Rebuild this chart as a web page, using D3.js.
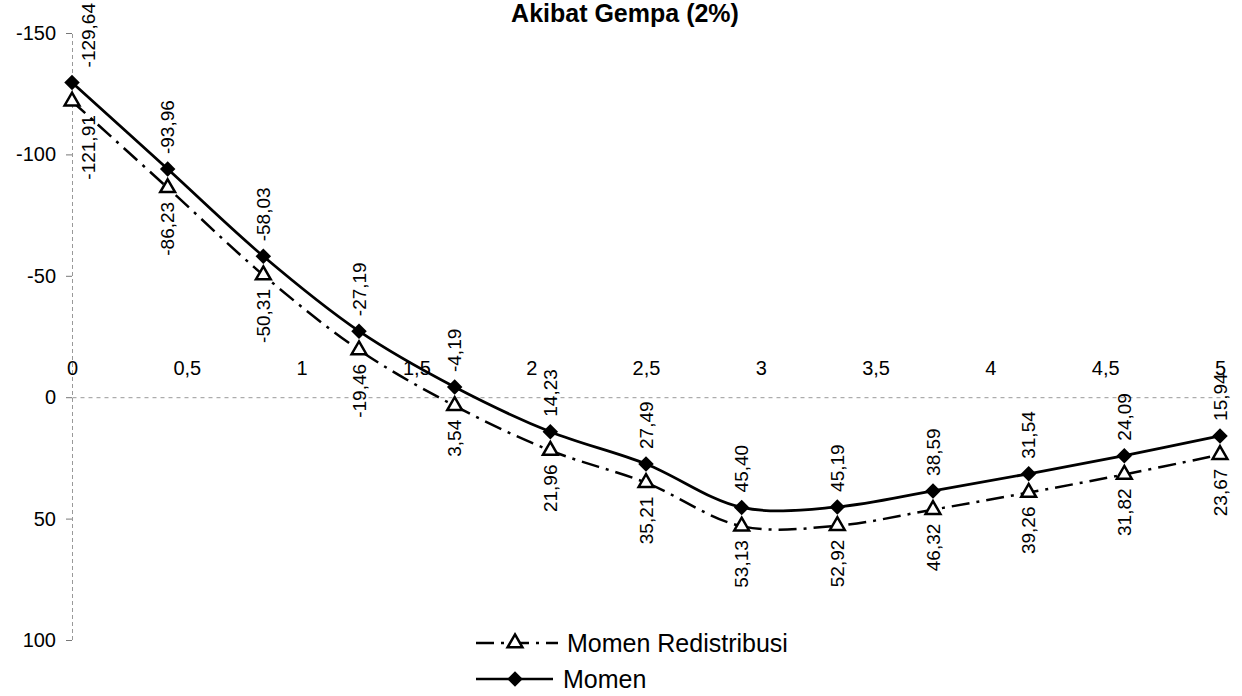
<!DOCTYPE html>
<html>
<head>
<meta charset="utf-8">
<script src="https://cdn.jsdelivr.net/npm/d3@7"></script>
<style>
  html, body { margin: 0; padding: 0; background: #fff; }
  svg { display: block; font-family: "Liberation Sans", Arial, sans-serif; }
</style>
</head>
<body>
<svg id="chart" width="1242" height="696"></svg>
<script>
// ---- data ----
const title = "Akibat Gempa (2%)";
const positions = [0, 5/12, 10/12, 15/12, 20/12, 25/12, 30/12, 35/12, 40/12, 45/12, 50/12, 55/12, 60/12];
const momen = [-129.64, -93.96, -58.03, -27.19, -4.19, 14.23, 27.49, 45.40, 45.19, 38.59, 31.54, 24.09, 15.94];
const momenRedistribusi = [-121.91, -86.23, -50.31, -19.46, 3.54, 21.96, 35.21, 53.13, 52.92, 46.32, 39.26, 31.82, 23.67];
const xTicks = [0, 0.5, 1, 1.5, 2, 2.5, 3, 3.5, 4, 4.5, 5];
const yTicks = [-150, -100, -50, 0, 50, 100];
const seriesNames = ["Momen Redistribusi", "Momen"];

// ---- layout ----
const svg = d3.select("#chart");
const x = d3.scaleLinear().domain([0, 5]).range([72, 1220]);
const y = d3.scaleLinear().domain([-150, 100]).range([33, 640]);
const fmt = v => v.toFixed(2).replace(".", ",");
const fmtTick = v => String(v).replace(".", ",");

// title
svg.append("text")
  .attr("x", 625).attr("y", 22)
  .attr("text-anchor", "middle")
  .style("font-weight", "bold")
  .style("font-size", "25px")
  .text(title);

// y axis
const yAxis = svg.append("g")
  .attr("transform", `translate(${x(0)},0)`)
  .call(d3.axisLeft(y).tickValues(yTicks).tickSize(6).tickPadding(10).tickFormat(d => String(d)));
yAxis.select(".domain").attr("stroke", "#999").attr("stroke-dasharray", "4,3");
yAxis.selectAll(".tick line").attr("stroke", "#777");
yAxis.selectAll("text").style("font-size", "20px").attr("fill", "#000");

// x axis at y=0, labels above
const xAxis = svg.append("g")
  .attr("transform", `translate(0,${y(0)})`)
  .call(d3.axisTop(x).tickValues(xTicks).tickSize(0).tickPadding(22).tickFormat(fmtTick));
xAxis.select(".domain").attr("stroke", "#999").attr("stroke-dasharray", "4,4");
xAxis.selectAll("text").style("font-size", "20px").attr("fill", "#000");

const curve = d3.curveCatmullRom.alpha(0.5);
const line = d3.line().x(d => x(d[0])).y(d => y(d[1])).curve(curve);

const redData = positions.map((p, i) => [p, momenRedistribusi[i]]);
const momData = positions.map((p, i) => [p, momen[i]]);

const dashPattern = "18,7,3,7";

// Momen Redistribusi line
svg.append("path")
  .datum(redData)
  .attr("d", line)
  .attr("fill", "none")
  .attr("stroke", "#000")
  .attr("stroke-width", 2.5)
  .attr("stroke-dasharray", dashPattern);

// Momen line
svg.append("path")
  .datum(momData)
  .attr("d", line)
  .attr("fill", "none")
  .attr("stroke", "#000")
  .attr("stroke-width", 2.8);

const tri = d3.symbol().type(d3.symbolTriangle).size(95);
const sq = d3.symbol().type(d3.symbolSquare).size(120);

// markers
svg.append("g").selectAll("path")
  .data(redData).join("path")
  .attr("transform", d => `translate(${x(d[0])},${y(d[1])})`)
  .attr("d", tri)
  .attr("fill", "#fff")
  .attr("stroke", "#000")
  .attr("stroke-width", 2.5);

svg.append("g").selectAll("path")
  .data(momData).join("path")
  .attr("transform", d => `translate(${x(d[0])},${y(d[1])}) rotate(45)`)
  .attr("d", sq)
  .attr("fill", "#000");

// data labels (rotated)
const labelShift = (i) => i === 0 ? 16 : 0;
svg.append("g").selectAll("text")
  .data(momData).join("text")
  .attr("transform", (d, i) => `translate(${x(d[0]) + labelShift(i)},${y(d[1]) - 15}) rotate(-90)`)
  .attr("dy", "0.35em")
  .attr("text-anchor", "start")
  .style("font-size", "19px")
  .text(d => fmt(d[1]));

svg.append("g").selectAll("text")
  .data(redData).join("text")
  .attr("transform", (d, i) => `translate(${x(d[0]) + labelShift(i)},${y(d[1]) + 14}) rotate(-90)`)
  .attr("dy", "0.35em")
  .attr("text-anchor", "end")
  .style("font-size", "19px")
  .text(d => fmt(d[1]));

// legend
const legend = svg.append("g");
const rows = [
  { name: seriesNames[0], y: 643, dash: dashPattern, sym: tri, rot: 0, fill: "#fff", x2: 558, tx: 567 },
  { name: seriesNames[1], y: 679, dash: null, sym: sq, rot: 45, fill: "#000", x2: 553, tx: 563 }
];
rows.forEach(r => {
  legend.append("line")
    .attr("x1", 476).attr("x2", r.x2).attr("y1", r.y).attr("y2", r.y)
    .attr("stroke", "#000").attr("stroke-width", 2.5)
    .attr("stroke-dasharray", r.dash);
  legend.append("path")
    .attr("transform", `translate(515,${r.y}) rotate(${r.rot})`)
    .attr("d", r.sym)
    .attr("fill", r.fill)
    .attr("stroke", r.fill === "#fff" ? "#000" : "none")
    .attr("stroke-width", 2.5);
  legend.append("text")
    .attr("x", r.tx).attr("y", r.y)
    .attr("dy", "0.35em")
    .style("font-size", "25px")
    .text(r.name);
});
</script>
</body>
</html>
